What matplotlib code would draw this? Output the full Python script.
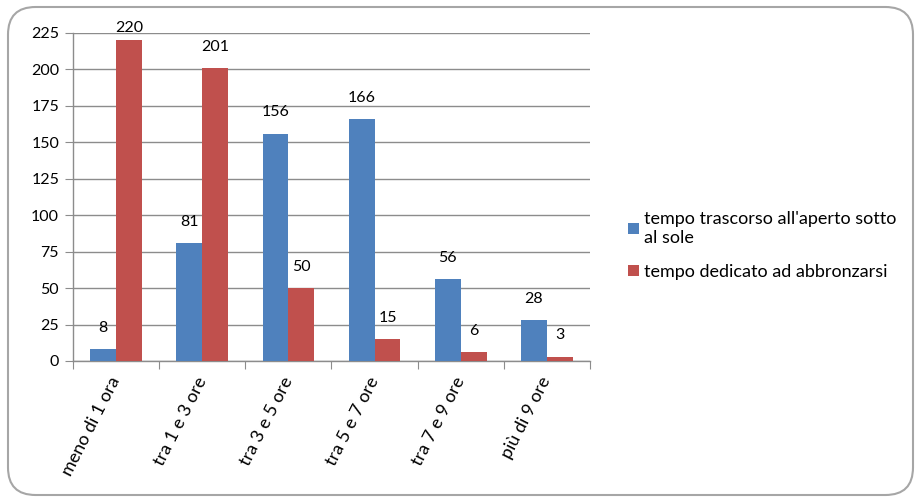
import matplotlib
matplotlib.use("Agg")
import matplotlib.pyplot as plt
import numpy as np
from matplotlib.patches import FancyBboxPatch, Patch

categories = ["meno di 1 ora", "tra 1 e 3 ore", "tra 3 e 5 ore",
              "tra 5 e 7 ore", "tra 7 e 9 ore", "più di 9 ore"]
outdoor_sun = [8, 81, 156, 166, 56, 28]
tanning = [220, 201, 50, 15, 6, 3]
series_names = ["tempo trascorso all'aperto sotto\nal sole",
                "tempo dedicato ad abbronzarsi"]
y_ticks = [0, 25, 50, 75, 100, 125, 150, 175, 200, 225]

plt.rcParams['font.family'] = ['Lato', 'DejaVu Sans']

BLUE = "#4F81BD"
RED = "#C0504D"
GRID = "#8C8C8C"

fig = plt.figure(figsize=(9.19, 5.01), dpi=100)
ax = fig.add_axes([73 / 919, 1 - 361 / 501, (590 - 73) / 919, (361 - 33) / 501])

x = np.arange(len(categories))
w = 0.3
ax.bar(x - w / 2, outdoor_sun, width=w, color=BLUE, align="center", zorder=3)
ax.bar(x + w / 2, tanning, width=w, color=RED, align="center", zorder=3)

ax.set_xlim(-0.5, len(categories) - 0.5)
ax.set_ylim(0, 225)
ax.set_yticks(y_ticks)
ax.yaxis.grid(True, color=GRID, linewidth=1.0, zorder=0)
ax.set_axisbelow(True)

for s in ["top", "right"]:
    ax.spines[s].set_visible(False)
for s in ["left", "bottom"]:
    ax.spines[s].set_color(GRID)
    ax.spines[s].set_linewidth(1.0)

ax.tick_params(axis="y", length=6, color=GRID, labelsize=11.5, pad=4)
ax.set_xticks(np.arange(len(categories) + 1) - 0.5, minor=False)
ax.set_xticklabels([""] * (len(categories) + 1))
ax.tick_params(axis="x", length=6, color=GRID, which="major")
ax.set_xticks(x, minor=True)
ax.set_xticklabels(categories, minor=True, rotation=63, ha="right",
                   va="center", rotation_mode="anchor", fontsize=13)
ax.tick_params(axis="x", which="minor", length=0, pad=12)

# value labels above the bars
for xs, vals in [(x - w / 2, outdoor_sun), (x + w / 2, tanning)]:
    for xi, v in zip(xs, vals):
        ypos = min(v + 14.5, 228.5)
        ax.text(xi, ypos, str(v), ha="center", va="center", fontsize=11.5,
                color="black", clip_on=False)

handles = [Patch(facecolor=BLUE, edgecolor="none"),
           Patch(facecolor=RED, edgecolor="none")]
fig.legend(handles, series_names, loc="upper left",
           bbox_to_anchor=(612 / 919, 1 - 195 / 501), frameon=False,
           fontsize=13, handlelength=0.6, handleheight=0.6,
           handletextpad=0.3, labelspacing=1.0)

border = FancyBboxPatch((8 / 919, 6 / 501), 905 / 919, 488 / 501,
                        boxstyle="round,pad=0,rounding_size=0.03",
                        transform=fig.transFigure, facecolor="none",
                        edgecolor="#A6A6A6", linewidth=1.5, zorder=-1,
                        mutation_aspect=919 / 501)
fig.patches.append(border)

fig.savefig("out.png", dpi=100)
